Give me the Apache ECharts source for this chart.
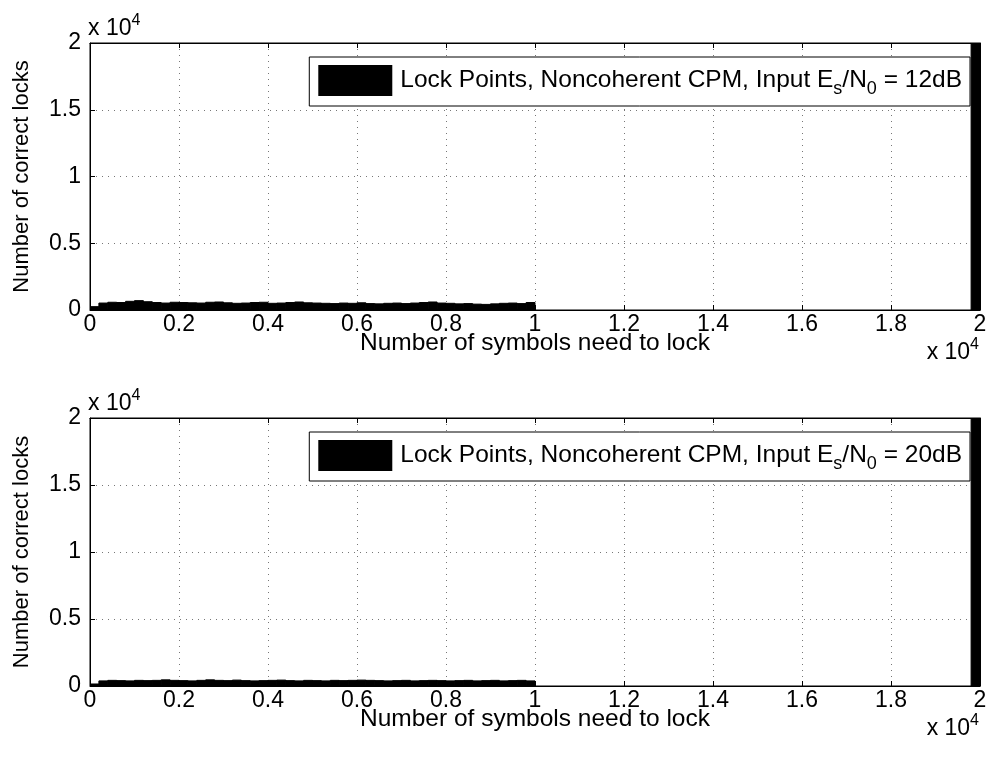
<!DOCTYPE html>
<html>
<head>
<meta charset="utf-8">
<script src="https://cdn.jsdelivr.net/npm/echarts@6/dist/echarts.min.js"></script>
<style>html,body{margin:0;padding:0;background:#fff}#c{width:993px;height:762px}</style>
</head>
<body>
<div id="c"></div>
<script>
// Histogram bins: width 200 symbols; counts for bins 0..10000 and the final bin 19800..20000
var binWidth = 200;
var counts12 = [250, 520, 580, 560, 650, 700, 620, 560, 520, 580, 560, 540, 520, 580, 600, 540, 500, 520, 560, 580, 500, 520, 560, 600, 540, 520, 500, 480, 520, 500, 540, 480, 460, 500, 520, 480, 520, 560, 600, 520, 500, 460, 480, 440, 420, 460, 500, 520, 480, 560];
var counts20 = [150, 380, 420, 400, 380, 420, 400, 420, 460, 420, 400, 380, 420, 460, 420, 400, 440, 400, 380, 400, 420, 440, 400, 380, 420, 400, 380, 420, 400, 420, 440, 420, 400, 380, 400, 420, 380, 400, 420, 400, 380, 400, 420, 380, 400, 420, 380, 400, 420, 380];
var lastBinStart = 19800;
var lastCount12 = 90000;
var lastCount20 = 90000;
var xTicks = [0, 2000, 4000, 6000, 8000, 10000, 12000, 14000, 16000, 18000, 20000];
var yTicks = [0, 5000, 10000, 15000, 20000];
var names = ['Lock Points, Noncoherent CPM, Input Es/N0 = 12dB', 'Lock Points, Noncoherent CPM, Input Es/N0 = 20dB'];
var legendRich = ['Lock Points, Noncoherent CPM, Input E{sub|s}/N{sub|0} = 12dB', 'Lock Points, Noncoherent CPM, Input E{sub|s}/N{sub|0} = 20dB'];

function toBins(counts, lastCount) {
  var out = [];
  for (var i = 0; i < counts.length; i++) out.push([i * binWidth, (i + 1) * binWidth, counts[i]]);
  out.push([lastBinStart, lastBinStart + binWidth, lastCount]);
  return out;
}

var FONT = 'Liberation Sans';
var FS = 23;
var grids = [
  {left: 90, right: 13, top: 43, height: 267},
  {left: 90, right: 13, top: 418, height: 268}
];

function renderItem(params, api) {
  var p0 = api.coord([api.value(0), api.value(2)]);
  var p1 = api.coord([api.value(1), 0]);
  var shape = echarts.graphic.clipRectByRect(
    {x: p0[0], y: p0[1], width: p1[0] - p0[0], height: p1[1] - p0[1]},
    {x: params.coordSys.x, y: params.coordSys.y, width: params.coordSys.width, height: params.coordSys.height});
  return shape && {type: 'rect', shape: shape, style: {fill: '#000', stroke: '#000', lineWidth: 1}};
}

var xAxes = [], yAxes = [], series = [], legends = [], graphics = [];
[0, 1].forEach(function (g) {
  var gridCommonX = {
    type: 'value', gridIndex: g, min: xTicks[0], max: xTicks[xTicks.length - 1], interval: xTicks[1] - xTicks[0],
    axisLine: {show: true, onZero: false, lineStyle: {color: '#000', width: 1}},
    axisTick: {show: true, inside: true, length: 5, lineStyle: {color: '#000'}},
    splitLine: {show: false}
  };
  xAxes.push(Object.assign({}, gridCommonX, {
    position: 'bottom',
    axisLabel: {show: true, color: '#000', fontFamily: FONT, fontSize: FS, margin: 3,
      formatter: function (v) { return String(+(v / 10000).toFixed(1)); }},
    splitLine: {show: true, lineStyle: {color: '#777', type: [1, 5], width: 1}},
    name: 'Number of symbols need to lock', nameLocation: 'middle', nameGap: 21, nameMoveOverlap: false,
    nameTextStyle: {color: '#000', fontFamily: FONT, fontSize: 24.5}
  }));
  xAxes.push(Object.assign({}, gridCommonX, {position: 'top', axisLabel: {show: false}}));
  var gridCommonY = {
    type: 'value', gridIndex: g, min: yTicks[0], max: yTicks[yTicks.length - 1], interval: yTicks[1] - yTicks[0],
    axisLine: {show: true, onZero: false, lineStyle: {color: '#000', width: 1}},
    axisTick: {show: true, inside: true, length: 5, lineStyle: {color: '#000'}},
    splitLine: {show: false}
  };
  yAxes.push(Object.assign({}, gridCommonY, {
    position: 'left',
    axisLabel: {show: true, color: '#000', fontFamily: FONT, fontSize: FS, margin: 9,
      formatter: function (v) { return String(+(v / 10000).toFixed(1)); }},
    splitLine: {show: true, lineStyle: {color: '#777', type: [1, 5], width: 1}},
    name: 'Number of correct locks', nameLocation: 'middle', nameGap: 57, nameMoveOverlap: false,
    nameTextStyle: {color: '#000', fontFamily: FONT, fontSize: 22}
  }));
  yAxes.push(Object.assign({}, gridCommonY, {position: 'right', axisLabel: {show: false}}));
  series.push({
    type: 'custom', name: names[g], xAxisIndex: g * 2, yAxisIndex: g * 2, clip: true,
    renderItem: renderItem, encode: {x: [0, 1], y: 2},
    itemStyle: {color: '#000'},
    data: toBins(g === 0 ? counts12 : counts20, g === 0 ? lastCount12 : lastCount20)
  });
  legends.push({
    data: [{name: names[g], icon: 'rect'}],
    right: 23, top: grids[g].top + 14,
    orient: 'horizontal',
    backgroundColor: '#fff', borderColor: '#000', borderWidth: 1,
    padding: [8, 8, 8, 9],
    itemWidth: 74, itemHeight: 31,
    selectedMode: false,
    formatter: function () { return legendRich[g]; },
    textStyle: {color: '#000', fontFamily: FONT, fontSize: 24.5, padding: [0, 0, 0, 3],
      rich: {sub: {fontFamily: FONT, fontSize: 18, padding: [17, 0, 0, 0]}}}
  });
  var gt = grids[g].top;
  graphics.push({type: 'text', left: 88, top: gt - 30,
    style: {text: 'x 10{sup|4}', fill: '#000', font: FS + 'px ' + FONT,
      rich: {sup: {fontSize: 16, fontFamily: FONT, padding: [0, 0, 15, 0]}}}});
  graphics.push({type: 'text', right: 14, top: gt + grids[g].height + 27,
    style: {text: 'x 10{sup|4}', fill: '#000', font: FS + 'px ' + FONT,
      rich: {sup: {fontSize: 16, fontFamily: FONT, padding: [0, 0, 15, 0]}}}});
});

var chart = echarts.init(document.getElementById('c'), null, {renderer: 'canvas'});
chart.setOption({
  animation: false,
  backgroundColor: '#fff',
  grid: grids.map(function (g) { return Object.assign({show: true, borderColor: '#000', borderWidth: 1, backgroundColor: 'transparent'}, g); }),
  xAxis: xAxes,
  yAxis: yAxes,
  legend: legends,
  series: series,
  graphic: graphics
});
</script>
</body>
</html>
